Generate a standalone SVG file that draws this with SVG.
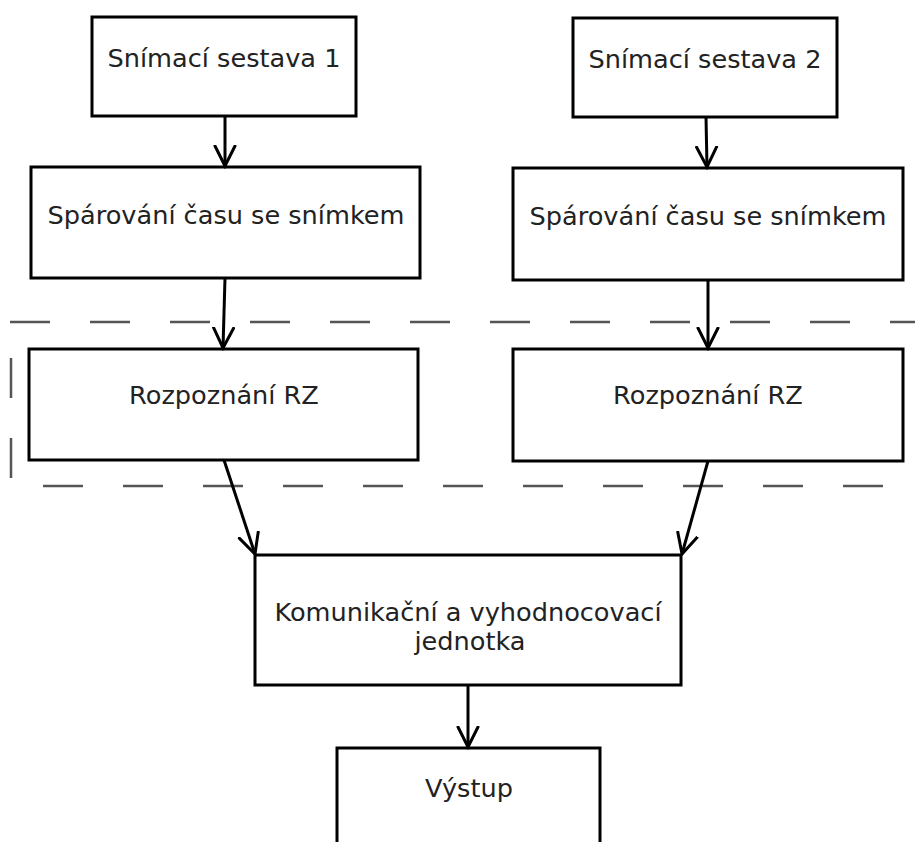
<svg xmlns="http://www.w3.org/2000/svg" width="915" height="842" viewBox="0 0 915 842">
  <defs>
    <marker id="arrow" viewBox="0 0 24 24" refX="21" refY="12" markerWidth="24" markerHeight="24" markerUnits="userSpaceOnUse" orient="auto">
      <path d="M1,2 L21,12 L1,22" fill="none" stroke="#000" stroke-width="3" stroke-linecap="round" stroke-linejoin="miter"/>
    </marker>
    <style>
      .box { fill: #fff; stroke: #000; stroke-width: 3; }
      .lbl { font-family: "DejaVu Sans", "Liberation Sans", sans-serif; font-size: 25.6px; fill: #222; text-anchor: middle; }
      .edge { stroke: #000; stroke-width: 3; fill: none; marker-end: url(#arrow); }
      .sep { stroke: #555; stroke-width: 2.5; fill: none; stroke-dasharray: 40 40; }
    </style>
  </defs>

  <rect width="915" height="842" fill="#fff"/>

  <!-- separator lines -->
  <g id="separators">
    <line class="sep" x1="10" y1="322" x2="915" y2="322"/>
    <line class="sep" x1="43" y1="486" x2="915" y2="486"/>
    <line class="sep" x1="11" y1="358" x2="11" y2="480"/>
  </g>

  <g id="node-snimaci1">
    <rect class="box" x="92" y="17" width="264" height="99"/>
    <text class="lbl" x="224" y="67">Snímací sestava 1</text>
  </g>
  <g id="node-snimaci2">
    <rect class="box" x="573" y="18" width="264" height="99"/>
    <text class="lbl" x="705" y="68">Snímací sestava 2</text>
  </g>
  <g id="node-parovani1">
    <rect class="box" x="31" y="167" width="389" height="111"/>
    <text class="lbl" x="226" y="224">Spárování času se snímkem</text>
  </g>
  <g id="node-parovani2">
    <rect class="box" x="513" y="168" width="390" height="112"/>
    <text class="lbl" x="708" y="225">Spárování času se snímkem</text>
  </g>
  <g id="node-rz1">
    <rect class="box" x="29" y="349" width="389" height="111"/>
    <text class="lbl" x="224" y="404">Rozpoznání RZ</text>
  </g>
  <g id="node-rz2">
    <rect class="box" x="513" y="349" width="390" height="112"/>
    <text class="lbl" x="708" y="404">Rozpoznání RZ</text>
  </g>
  <g id="node-jednotka">
    <rect class="box" x="255" y="555" width="426" height="130"/>
    <text class="lbl" x="468" y="621">Komunikační a vyhodnocovací</text>
    <text class="lbl" x="470" y="650">jednotka</text>
  </g>
  <g id="node-vystup">
    <rect class="box" x="337" y="748" width="263" height="110"/>
    <text class="lbl" x="469" y="797">Výstup</text>
  </g>

  <!-- connectors -->
  <g id="connectors">
    <line class="edge" x1="225" y1="116" x2="225" y2="166"/>
    <line class="edge" x1="706" y1="117" x2="707" y2="167"/>
    <line class="edge" x1="225" y1="278" x2="223" y2="348"/>
    <line class="edge" x1="708" y1="280" x2="708" y2="348"/>
    <line class="edge" x1="224" y1="460" x2="255" y2="554"/>
    <line class="edge" x1="708" y1="461" x2="682" y2="554"/>
    <line class="edge" x1="468" y1="685" x2="468" y2="747"/>
  </g>
</svg>
